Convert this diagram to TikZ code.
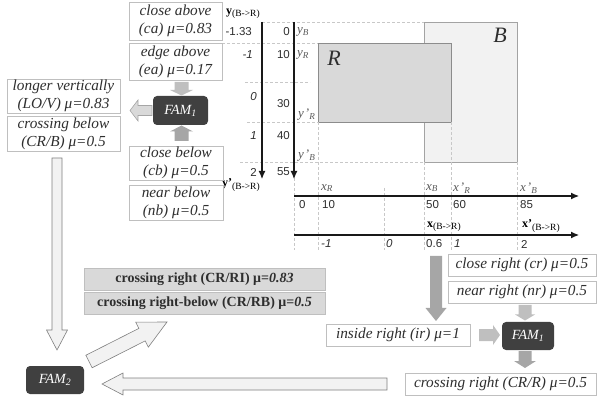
\documentclass[tikz,border=0pt]{standalone}
\usepackage{fontspec}
\setmainfont{Liberation Serif}
\newfontfamily\numfont{Liberation Sans}
\usetikzlibrary{calc,arrows.meta}
\definecolor{boxline}{HTML}{BFBFBF}
\definecolor{txtc}{HTML}{2E2E2E}
\definecolor{famc}{HTML}{404040}
\definecolor{gboxc}{HTML}{D9D9D9}
\definecolor{rfill}{HTML}{D9D9D9}
\definecolor{bfill}{HTML}{F2F2F2}
\definecolor{rectline}{HTML}{8C8C8C}
\definecolor{lightarr}{HTML}{BFBFBF}
\definecolor{darkarr}{HTML}{A6A6A6}
\definecolor{hollowfill}{HTML}{F2F2F2}
\definecolor{hollowline}{HTML}{7F7F7F}
\definecolor{dashc}{HTML}{C8C8C8}
\definecolor{labc}{HTML}{595959}
\newcommand\barrow[6]{%
  \coordinate (ba-a) at (#2);
  \coordinate (ba-b) at (#3);
  \coordinate (ba-h) at ($(ba-b)!#6!(ba-a)$);
  \path[#1] ($(ba-a)!#4!90:(ba-b)$) -- ($(ba-h)!#4!90:(ba-b)$) -- ($(ba-h)!#5!90:(ba-b)$)
    -- (ba-b) -- ($(ba-h)!#5!-90:(ba-b)$) -- ($(ba-h)!#4!-90:(ba-b)$) -- ($(ba-a)!#4!-90:(ba-b)$) -- cycle;
}
\tikzset{
  txt/.style={draw=boxline, fill=white, line width=0.6pt, inner sep=0pt, align=center,
    text=txtc, font=\itshape\fontsize{15.3}{18}\selectfont},
  fam/.style={fill=famc, rounded corners=4pt, inner sep=0pt, text=white,
    font=\itshape\fontsize{14}{15}\selectfont},
  gbox/.style={draw=boxline, fill=gboxc, line width=0.6pt, inner sep=0pt, text=txtc,
    font=\bfseries\fontsize{14}{17}\selectfont},
  lightA/.style={fill=lightarr},
  darkA/.style={fill=darkarr},
  outA/.style={fill=gboxc, draw=darkarr, line width=0.6pt},
  hollowA/.style={fill=hollowfill, draw=hollowline, line width=0.6pt, line join=miter},
  axis/.style={draw=black!90, line width=1.1pt, -{Latex[length=8pt,width=7pt]}},
  guide/.style={draw=dashc, line width=0.5pt, dash pattern=on 3pt off 2pt},
  num/.style={inner sep=0pt, text=txtc, font=\numfont\fontsize{11.5}{13}\selectfont},
  inum/.style={num, font=\numfont\itshape\fontsize{11.5}{13}\selectfont},
  lab/.style={inner sep=0pt, text=labc, font=\itshape\fontsize{13}{15}\selectfont},
  blab/.style={inner sep=0pt, text=black, font=\fontsize{12}{14}\selectfont},
}
\begin{document}
\begin{tikzpicture}[x=1pt,y=-1pt]
\useasboundingbox (0,0) rectangle (597,403);
% ---------- rectangles B and R ----------
\node[draw=rectline!80, fill=bfill, line width=0.6pt, minimum width=93, minimum height=140, inner sep=0pt] (Bbox) at (470.5,92) {};
\node[draw=rectline, fill=rfill, line width=0.6pt, minimum width=133, minimum height=79, inner sep=0pt] (Rbox) at (384.5,82.5) {};
\node[inner sep=0pt, font=\itshape\fontsize{22}{24}\selectfont, text=txtc] (Blab) at (500,35) {B};
\node[inner sep=0pt, font=\itshape\fontsize{22}{24}\selectfont, text=txtc] (Rlab) at (334,58) {R};
% ---------- dashed guides ----------
\draw[guide] (262,22) -- (424,22);
\draw[guide] (222,43) -- (318,43);
\draw[guide] (245,82) -- (310,82);
\draw[guide] (247,122) -- (318,122);
\draw[guide] (240,162) -- (424,162);
\draw[guide] (294,178) -- (294,250);
\draw[guide] (318,122) -- (318,250);
\draw[guide] (384,188) -- (384,250);
\draw[guide] (424,162) -- (424,250);
\draw[guide] (451,122) -- (451,250);
\draw[guide] (517,162) -- (517,250);
% ---------- axes ----------
\coordinate (ya0) at (262,22); \coordinate (ya1) at (262,179);
\coordinate (yb0) at (294,22); \coordinate (yb1) at (294,179);
\coordinate (xa0) at (294,196); \coordinate (xa1) at (579,196);
\coordinate (xb0) at (294,235); \coordinate (xb1) at (579,235);
\draw[axis] (ya0) -- (ya1);
\draw[axis] (yb0) -- (yb1);
\draw[axis] (xa0) -- (xa1);
\draw[axis] (xb0) -- (xb1);
% y axis labels
\node[blab, anchor=west] (ytop) at (226,14) {\textbf{y}\textsubscript{\fontsize{9.5}{10}\selectfont(B->R)}};
\node[blab, anchor=west] (ybot) at (222,185) {\textbf{y'}\textsubscript{\fontsize{9.5}{10}\selectfont(B->R)}};
\node[num, anchor=east] (n1) at (252,32) {-1.33};
\node[inum, anchor=east] (n2) at (253,55) {-1};
\node[inum, anchor=east] (n3) at (257,97) {0};
\node[inum, anchor=east] (n4) at (257,136) {1};
\node[num, anchor=east] (n5) at (257,172) {2};
\node[num, anchor=east] (m1) at (290,32) {0};
\node[num, anchor=east] (m2) at (290,55) {10};
\node[num, anchor=east] (m3) at (290,104) {30};
\node[num, anchor=east] (m4) at (290,136) {40};
\node[num, anchor=east] (m5) at (290,172) {55};
\node[lab, anchor=west] (lyB) at (297,32) {y\textsubscript{B}};
\node[lab, anchor=west] (lyR) at (297,55) {y\textsubscript{R}};
\node[lab, anchor=west] (lyR2) at (298,115) {y\kern1pt'\textsubscript{R}};
\node[lab, anchor=west] (lyB2) at (298,156) {y\kern1pt'\textsubscript{B}};
% x axis labels
\node[lab, anchor=west] (lxR) at (321,188) {x\textsubscript{R}};
\node[lab, anchor=west] (lxB) at (426,188) {x\textsubscript{B}};
\node[lab, anchor=west] (lxR2) at (453,188) {x\kern1pt'\textsubscript{R}};
\node[lab, anchor=west] (lxB2) at (520,188) {x\kern1pt'\textsubscript{B}};
\node[num, anchor=west] (k1) at (299,205) {0};
\node[num, anchor=west] (k2) at (322,205) {10};
\node[num, anchor=west] (k3) at (426,205) {50};
\node[num, anchor=west] (k4) at (453,205) {60};
\node[num, anchor=west] (k5) at (520,205) {85};
\node[blab, anchor=west] (lxt) at (427,227) {\textbf{x}\textsubscript{\fontsize{9.5}{10}\selectfont(B->R)}};
\node[blab, anchor=west] (lxt2) at (522,226) {\textbf{x'}\textsubscript{\fontsize{9.5}{10}\selectfont(B->R)}};
\node[inum, anchor=west] (j1) at (321,244) {-1};
\node[inum, anchor=west] (j2) at (386,244) {0};
\node[num, anchor=west] (j3) at (426,244) {0.6};
\node[inum, anchor=west] (j4) at (454,244) {1};
\node[num, anchor=west] (j5) at (521,244) {2};
% ---------- top-left FAM1 cluster ----------
\node[txt, minimum width=93, minimum height=38] (ca) at (175.5,21) {close above\\(ca) μ=0.83};
\node[txt, minimum width=93, minimum height=37] (ea) at (175.5,61.5) {edge above\\(ea) μ=0.17};
\node[txt, minimum width=94, minimum height=34] (cb) at (176,163) {close below\\(cb) μ=0.5};
\node[txt, minimum width=94, minimum height=35] (nb) at (176,202.5) {near below\\(nb) μ=0.5};
\node[txt, minimum width=113, minimum height=34] (lov) at (63.5,96) {longer vertically\\(LO/V) μ=0.83};
\node[txt, minimum width=113, minimum height=35] (crb) at (63.5,133.5) {crossing below\\(CR/B) μ=0.5};
\node[fam, minimum width=55, minimum height=29] (famA) at (180.5,110.5) {FAM\textsubscript{1}};
\barrow{lightA}{181.5,82}{181.5,95.5}{7pt}{11.5pt}{5.5pt}
\barrow{darkA}{181.5,141}{181.5,125.5}{7pt}{11.5pt}{6pt}
\barrow{outA}{152,110.5}{130,110.5}{5pt}{10.5pt}{8pt}
% ---------- FAM2 and big arrows ----------
\node[fam, minimum width=58, minimum height=28] (famB) at (55,380) {FAM\textsubscript{2}};
\barrow{hollowA}{57,158}{57,350}{5pt}{10.5pt}{20pt}
\barrow{hollowA}{89,361.5}{167,322}{7pt}{14pt}{28pt}
\barrow{hollowA}{387,384}{102,384}{6pt}{11pt}{21pt}
\node[gbox, minimum width=241, minimum height=22] (g1) at (204.5,279) {crossing right (CR/RI) μ=\textit{0.83}};
\node[gbox, minimum width=241, minimum height=22] (g2) at (204.5,303) {crossing right-below (CR/RB) μ=\textit{0.5}};
% ---------- right FAM1 cluster ----------
\node[txt, minimum width=148, minimum height=22] (cr) at (522,265) {close right (cr) μ=0.5};
\node[txt, minimum width=148, minimum height=22] (nr) at (522,292) {near right (nr) μ=0.5};
\node[txt, minimum width=144, minimum height=22] (ir) at (398,335) {inside right (ir) μ=1};
\node[fam, minimum width=52, minimum height=28] (famC) at (528,336) {FAM\textsubscript{1}};
\node[txt, minimum width=191, minimum height=22] (crr) at (500.5,384) {crossing right (CR/R) μ=0.5};
\barrow{darkA}{436,256}{436,321}{6pt}{10.5pt}{13pt}
\barrow{lightA}{525,305}{525,320.5}{6.5pt}{10pt}{6pt}
\barrow{lightA}{479,335}{500,335}{6pt}{10pt}{7pt}
\barrow{darkA}{525,351}{525,368}{6.5pt}{11pt}{7pt}
\end{tikzpicture}
\end{document}
